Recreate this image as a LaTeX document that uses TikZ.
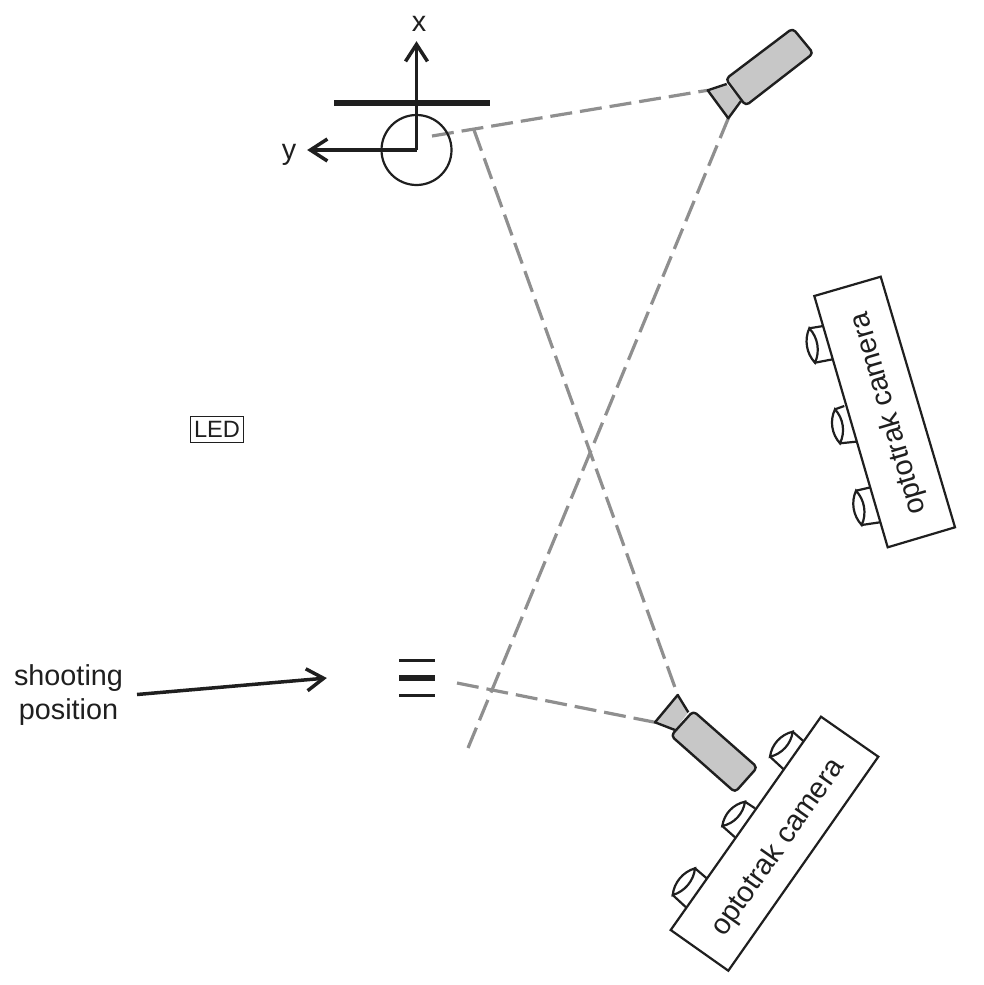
\documentclass[tikz,border=0pt]{standalone}
\usepackage{fontspec}
\setmainfont{Liberation Sans}
\usetikzlibrary{arrows.meta,calc}
\definecolor{ink}{gray}{0.12}
\definecolor{camfill}{gray}{0.78}
\definecolor{raygray}{gray}{0.56}
\pgfarrowsdeclare{openvee}{openvee}
  {\pgfarrowsleftextend{-17pt}\pgfarrowsrightextend{3.4pt}}
  {\pgfsetmiterjoin\pgfsetbuttcap
   \pgfpathmoveto{\pgfpoint{-17pt}{11pt}}
   \pgfpathlineto{\pgfpoint{0pt}{0pt}}
   \pgfpathlineto{\pgfpoint{-17pt}{-11pt}}
   \pgfusepathqstroke}
\tikzset{
  ink line/.style={draw=ink,line width=2.2pt},
  body/.style={ink line,line width=2.4pt,fill=camfill,line join=round,rounded corners=4pt},
  nozzle/.style={ink line,line width=2.4pt,fill=camfill,line join=round},
  ray/.style={draw=raygray,line width=3.2pt,dash pattern=on 22pt off 8pt},
  axis/.style={draw=ink,line width=3.5pt,-openvee},
  label/.style={font=\fontsize{28.8}{34}\selectfont,text=ink,inner sep=0pt},
  optolabel/.style={font=\fontsize{29}{34}\selectfont,text=ink,inner sep=0pt},
}
\newcommand{\lensunit}[4]{%
  \draw[ink line,line join=round,fill=white] (#1) -- (#2) -- (#3) -- (#4);
  \draw[ink line,fill=white]
    (#2) .. controls ($(#2)!.3!(#3)!7pt!90:(#3)$) and ($(#2)!.7!(#3)!7pt!90:(#3)$) .. (#3)
         .. controls ($(#2)!.7!(#3)!7pt!-90:(#3)$) and ($(#2)!.3!(#3)!7pt!-90:(#3)$) .. (#2) -- cycle;
}
\begin{document}
\begin{tikzpicture}[x=1pt,y=-1pt]
\useasboundingbox (0,0) rectangle (983,985);

% named points
\coordinate (o) at (416.5,150);
\coordinate (xtip) at (416.5,41);
\coordinate (ytip) at (307,150);
\coordinate (barL) at (334,102.5);
\coordinate (barR) at (490,102.5);
\coordinate (topL) at (707.7,90.3);
\coordinate (topB) at (728.3,118.3);
\coordinate (botT) at (677.7,695);
\coordinate (botL) at (655,722.3);
\coordinate (r1) at (432,136);
\coordinate (r2) at (474,130);
\coordinate (r3) at (457,683);
\coordinate (r4) at (468,748);
\coordinate (sA) at (137,694.5);
\coordinate (sB) at (327,678);

% rays
\draw[ray] (r1) -- (topL);
\draw[ray] (r2) -- (botT);
\draw[ray] (r3) -- (botL);
\draw[ray] (r4) -- (topB);

% head
\draw[ink,line width=2.2pt] (o) circle[radius=35pt];
\draw[ink,line width=6pt] (barL) -- (barR);
\draw[axis] (o) -- (xtip);
\draw[axis] (o) -- (ytip);
\node[label] (xlab) at (419,24) {x};
\node[label] (ylab) at (289,155) {y};

% top camera
\draw[nozzle] (726.7,84) -- (topL) -- (topB) -- (741,101);
\draw[body] (792.7,28.3) -- (813.3,53.3) -- (745.7,105.7) -- (725.7,79) -- cycle;

% bottom camera
\draw[nozzle] (688.3,712.3) -- (botT) -- (botL) -- (675,730);
\draw[body] (693.3,711) -- (757.3,767.3) -- (735,792.3) -- (671,735.7) -- cycle;

% right optotrak
\lensunit{823.3,326}{809.3,328.3}{815,362.7}{832.7,359.3}
\lensunit{844.3,406}{835,409.3}{840,443.3}{856,441.7}
\lensunit{870.7,487.3}{856,490.7}{861.7,525}{880,522.3}
\draw[ink line,fill=white,line join=miter] (814.3,296) -- (880.7,276.7) -- (955,527.3) -- (887.7,547.3) -- cycle;
\node[optolabel,rotate=106.3] (optoR) at (889,413.5) {optotrak camera};

% bottom optotrak
\lensunit{803.3,741}{792.7,731.7}{770,756.7}{783.3,769}
\lensunit{755,808.3}{745,801.7}{722.3,826}{735,837.3}
\lensunit{706.7,878.3}{695,868.3}{672.7,895}{686,907.3}
\draw[ink line,fill=white,line join=miter] (821,716.7) -- (878.3,756.7) -- (728.3,970.7) -- (670.7,930) -- cycle;
\node[optolabel,rotate=54.8] (optoB) at (778.5,848) {optotrak camera};

% LED
\node[draw=ink,line width=1.5pt,minimum width=53pt,minimum height=26pt,inner sep=0pt,
      font=\fontsize{23.6}{28}\selectfont,text=ink] (led) at (217,429.5) {LED};

% shooting position
\node[label,align=center] (shoot) at (68.5,695) {shooting\\position};
\draw[axis] (sA) -- (sB);
\coordinate (b1L) at (399,660); \coordinate (b1R) at (434.5,660);
\coordinate (b2L) at (399,677.7); \coordinate (b2R) at (434.5,677.7);
\coordinate (b3L) at (399,695); \coordinate (b3R) at (434.5,695);
\draw[ink,line width=3pt] (b1L) -- (b1R);
\draw[ink,line width=5.8pt] (b2L) -- (b2R);
\draw[ink,line width=3pt] (b3L) -- (b3R);
\end{tikzpicture}
\end{document}
